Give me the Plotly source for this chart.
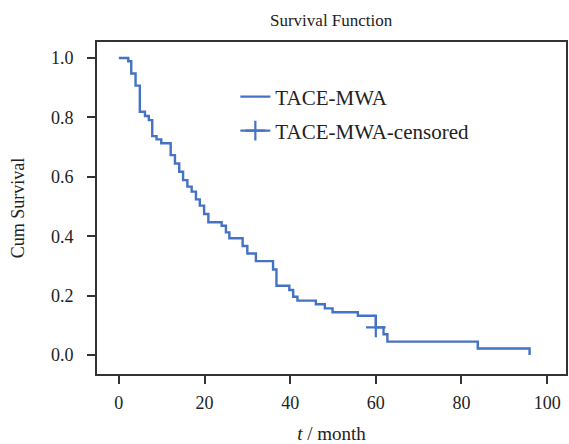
import plotly.graph_objects as go

# Kaplan-Meier step estimates
times = [0, 2.2, 2.9, 3.9, 4.9, 6.1, 7.0, 7.8, 8.8, 9.9, 12.1, 13.1, 14.1, 15.0, 16.0,
         17.0, 18.0, 18.9, 19.9, 20.9, 24.0, 25.0, 25.8, 28.9, 30.0, 32.0, 36.0, 36.8,
         39.8, 40.7, 41.7, 46.0, 48.1, 49.9, 55.8, 60.0, 61.8, 62.7, 83.8, 95.9]
survival = [1.0, 0.989, 0.948, 0.907, 0.819, 0.805, 0.791, 0.737, 0.726, 0.713, 0.673,
            0.645, 0.617, 0.589, 0.567, 0.55, 0.524, 0.503, 0.475, 0.447, 0.435, 0.413,
            0.393, 0.367, 0.342, 0.316, 0.288, 0.233, 0.219, 0.196, 0.183, 0.171, 0.157,
            0.144, 0.132, 0.093, 0.07, 0.045, 0.022, 0.0]
censor_times = [60.0]
censor_surv = [0.093]

x_ticks = [0, 20, 40, 60, 80, 100]
y_ticks = [0.0, 0.2, 0.4, 0.6, 0.8, 1.0]
y_tick_labels = ["0.0", "0.2", "0.4", "0.6", "0.8", "1.0"]

color = "#4472C4"
font_family = "Liberation Serif"
text_color = "#222"

fig = go.Figure()
fig.add_trace(go.Scatter(
    x=times, y=survival, mode="lines", line=dict(color=color, width=2.4, shape="hv"),
    name="TACE-MWA", legend="legend"))
fig.add_trace(go.Scatter(
    x=censor_times, y=censor_surv, mode="lines+markers",
    line=dict(color=color, width=2.4),
    marker=dict(symbol="cross-thin", size=14, line=dict(color=color, width=2.2)),
    name="TACE-MWA-censored", legend="legend2"))

axis_common = dict(showgrid=False, zeroline=False, showline=True, linecolor="#333",
                   linewidth=1.6, mirror=True, ticks="outside", ticklen=8, tickwidth=2,
                   tickcolor="#333", automargin=False,
                   tickfont=dict(size=18, family=font_family, color=text_color))

legend_common = dict(xanchor="left", yanchor="middle", bgcolor="rgba(0,0,0,0)",
                     font=dict(size=21, family=font_family, color=text_color))

fig.update_layout(
    width=569, height=444,
    margin=dict(l=97, r=3, t=42, b=70),
    paper_bgcolor="white", plot_bgcolor="white",
    font=dict(family=font_family, color=text_color),
    title=dict(text="Survival Function", x=0.582, xanchor="center", y=0.955, yanchor="middle",
               font=dict(size=17, family=font_family, color=text_color)),
    xaxis=dict(range=[-5.1, 104.4], tickvals=x_ticks, ticklabelstandoff=4,
               title=dict(text="<i>t</i> / month", font=dict(size=19, family=font_family), standoff=14),
               **axis_common),
    yaxis=dict(range=[-0.064, 1.054], tickvals=y_ticks, ticktext=y_tick_labels, ticklabelstandoff=10,
               title=dict(text="Cum Survival", font=dict(size=18, family=font_family), standoff=22),
               **axis_common),
    legend=dict(x=0.295, y=(374 - 97) / 332, **legend_common),
    legend2=dict(x=0.295, y=(374 - 131) / 332, **legend_common),
    showlegend=True,
)

fig.write_html("out.html", config={"displayModeBar": False},
               post_script="document.body.style.margin='0';")
